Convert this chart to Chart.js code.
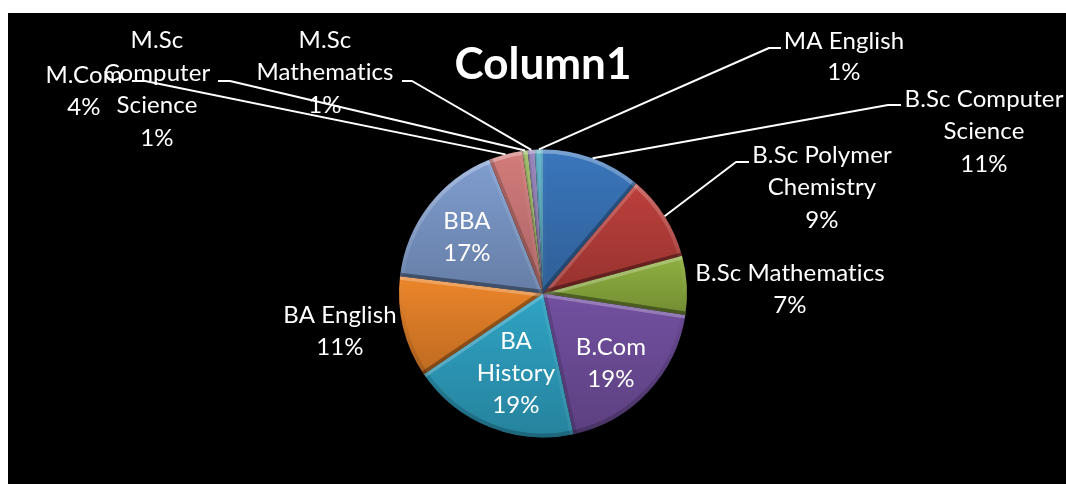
<!DOCTYPE html>
<html><head><meta charset="utf-8">
<style>html,body{margin:0;padding:0;background:#fff;overflow:hidden}canvas{display:block}</style>
<script src="https://cdn.jsdelivr.net/npm/chart.js@4/dist/chart.umd.min.js"></script>
</head><body><canvas id="c" width="1066" height="484"></canvas>
<script>
const categories = ["B.Sc Computer Science","B.Sc Polymer Chemistry","B.Sc Mathematics","B.Com","BA History","BA English","BBA","M.Com","M.Sc Computer Science","M.Sc Mathematics","MA English"];
const shares = [11.2,9.6,6.6,19.2,18.9,11.4,17.0,3.8,0.6,0.8,0.9];
const percentLabels = ["11%","9%","7%","19%","19%","11%","17%","4%","1%","1%","1%"];
const sliceColors = ["#3A76BC","#BC3F3B","#8FB040","#7250A0","#2FA3C4","#EC852A","#7F9DCF","#D27C7B","#A3BE6E","#9A87BC","#68B7CE"];
const titleText = "Column1";

// Text wrapping and placement of each label (layout only, no data).
const labelLayout = [
 {lines:["B.Sc Computer","Science"],x:984,y:[99,131,164],elbow:[[901,105],[888,105]]},
 {lines:["B.Sc Polymer","Chemistry"],x:822,y:[155,187,220],elbow:[[749,162],[736,162]]},
 {lines:["B.Sc Mathematics"],x:790,y:[273,305]},
 {lines:["B.Com"],x:611,y:[347,379]},
 {lines:["BA","History"],x:516,y:[341,373,405]},
 {lines:["BA English"],x:340,y:[315,347]},
 {lines:["BBA"],x:467,y:[221,253]},
 {lines:["M.Com"],x:84,y:[75,107],elbow:[[132,81],[145,81]]},
 {lines:["M.Sc","Computer","Science"],x:157,y:[40,73,105,138],elbow:[[218,81],[230,81]]},
 {lines:["M.Sc","Mathematics"],x:325,y:[40,72,105],elbow:[[402,81],[412,81]]},
 {lines:["MA English"],x:844,y:[41,72],elbow:[[781,48],[769,48]]}
];
const FONT = '24px Lato, "Open Sans", sans-serif';

const backdrop = {
 id:'backdrop',
 beforeDraw(chart){
  const c=chart.ctx; c.save();
  c.fillStyle='#fff'; c.fillRect(0,0,chart.width,chart.height);
  c.fillStyle='#000'; c.fillRect(8,13,chart.width-8,chart.height-13);
  c.restore();
 }
};

function wedge(c,a){
 c.beginPath(); c.moveTo(a.x,a.y);
 c.arc(a.x,a.y,a.outerRadius,a.startAngle,a.endAngle); c.closePath();
}
const bevel = {
 id:'bevel',
 afterDatasetsDraw(chart){
  const c=chart.ctx;
  chart.getDatasetMeta(0).data.forEach(a=>{
   const R=a.outerRadius, span=a.endAngle-a.startAngle;
   c.save(); wedge(c,a); c.clip();
   // overall top-to-bottom shading of the slice
   const pts=[[a.x,a.y],[a.x+R*Math.cos(a.startAngle),a.y+R*Math.sin(a.startAngle)],[a.x+R*Math.cos(a.endAngle),a.y+R*Math.sin(a.endAngle)]];
   for(let t=a.startAngle;t<a.endAngle;t+=0.05) pts.push([a.x+R*Math.cos(t),a.y+R*Math.sin(t)]);
   const ys=pts.map(p=>p[1]), top=Math.min(...ys), bot=Math.max(...ys);
   const g=c.createLinearGradient(0,top,0,bot);
   g.addColorStop(0,'rgba(0,0,0,0)'); g.addColorStop(1,'rgba(0,0,0,0.2)');
   c.fillStyle=g; c.fillRect(a.x-R,a.y-R,2*R,2*R);
   // rim bevel: lit from above
   const rim=c.createLinearGradient(0,a.y-R,0,a.y+R);
   rim.addColorStop(0,'rgba(255,255,255,0.32)');
   rim.addColorStop(0.45,'rgba(255,255,255,0.03)');
   rim.addColorStop(0.6,'rgba(0,0,0,0.06)');
   rim.addColorStop(1,'rgba(0,0,0,0.22)');
   c.strokeStyle=rim; c.lineWidth=8;
   c.beginPath(); c.arc(a.x,a.y,R,a.startAngle,a.endAngle); c.stroke();
   // straight edges: bright if the edge faces up, dark if it faces down
   [[a.startAngle,-1],[a.endAngle,1]].forEach(([t,s])=>{
    const ny=s*Math.cos(t); // outward normal y of this edge
    c.strokeStyle= ny<0 ? `rgba(255,255,255,${0.24*Math.abs(ny)+0.02})` : `rgba(0,0,0,${0.3*Math.abs(ny)+0.08})`;
    c.lineWidth=Math.min(7,span*R*0.2+2);
    c.beginPath(); c.moveTo(a.x,a.y); c.lineTo(a.x+R*Math.cos(t),a.y+R*Math.sin(t)); c.stroke();
   });
   c.restore();
  });
 }
};

const labels = {
 id:'labelsOut',
 afterDraw(chart){
  const c=chart.ctx, arcs=chart.getDatasetMeta(0).data;
  c.save();
  c.strokeStyle='#fff'; c.lineWidth=2; c.lineJoin='round';
  labelLayout.forEach((l,i)=>{
   if(!l.elbow) return;
   const a=arcs[i], mid=(a.startAngle+a.endAngle)/2;
   c.beginPath();
   c.moveTo(l.elbow[0][0],l.elbow[0][1]);
   c.lineTo(l.elbow[1][0],l.elbow[1][1]);
   c.lineTo(a.x+a.outerRadius*Math.cos(mid),a.y+a.outerRadius*Math.sin(mid));
   c.stroke();
  });
  c.fillStyle='#fff'; c.font=FONT; c.letterSpacing='0.1px'; c.textAlign='center'; c.textBaseline='middle';
  labelLayout.forEach((l,i)=>{
   const rows=l.lines.concat(percentLabels[i]);
   rows.forEach((t,k)=>c.fillText(t,l.x,l.y[k]));
  });
  c.restore();
 }
};

new Chart(document.getElementById('c'),{
 type:'pie',
 data:{labels:categories,datasets:[{data:shares,backgroundColor:sliceColors,borderWidth:0}]},
 options:{
  responsive:false,animation:false,
  layout:{padding:{left:399,right:379,top:0,bottom:46}},
  plugins:{
   legend:{display:false},tooltip:{enabled:false},
   title:{display:true,text:titleText,color:'#fff',fullSize:false,
    font:{family:'Lato, "Open Sans", sans-serif',size:44,weight:'bold',lineHeight:1.2},
    padding:{top:38,bottom:58}}
  }
 },
 plugins:[backdrop,bevel,labels]
});
</script></body></html>
